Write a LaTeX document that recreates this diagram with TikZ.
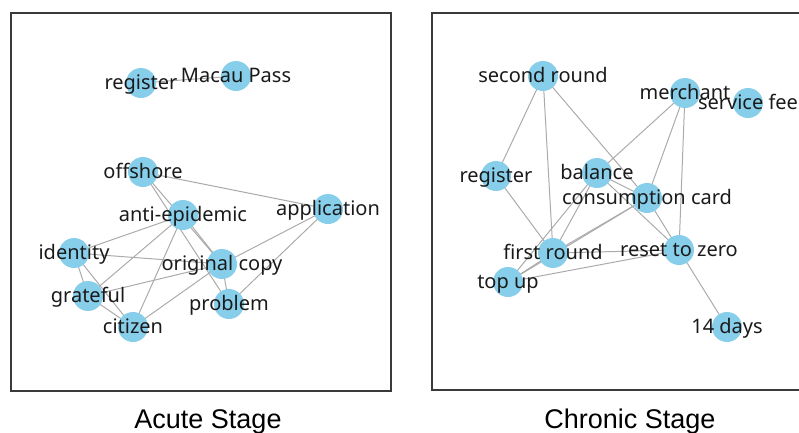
\documentclass[tikz,border=0pt]{standalone}
\usepackage{fontspec}
\setmainfont{Noto Sans}
\newfontfamily\titlefont{Liberation Sans}
\usetikzlibrary{backgrounds}
\definecolor{nodeblue}{HTML}{87CEEB}
\definecolor{edgegray}{HTML}{ABABAB}
\definecolor{framegray}{HTML}{3A3A3A}
\definecolor{labelink}{HTML}{1A1A1A}
% vertex: a filled disc plus its centred label
\newcommand\gvertex[4]{%
  \node[vtx] (#1) at (#2,#3) {};
  \node[lbl] (#1-l) at (#1.center) {#4};}
\begin{document}
\begin{tikzpicture}[x=1pt,y=-1pt,
  vtx/.style={circle, fill=nodeblue, minimum size=30pt, inner sep=0pt},
  lbl/.style={anchor=base, yshift=-6pt, inner sep=0pt, text=labelink,
              font=\fontsize{20}{24}\selectfont},
  edge/.style={draw=edgegray, line width=1pt},
  panel/.style={draw=framegray, line width=1.3pt},
  caption/.style={anchor=base, inner sep=0pt, text=black,
                  font=\titlefont\fontsize{27}{32}\selectfont}]
\useasboundingbox (0,0) rectangle (799,432);
\clip (0,0) rectangle (799,432);

% panel frames
\draw[panel] (11,13) rectangle (391,391);
\draw[panel] (432,13) rectangle (820,390);

% ---- acute stage network ----
\gvertex{aReg}{141}{83}{register}
\gvertex{aMacau}{236}{76}{Macau Pass}
\gvertex{aOff}{143}{172}{offshore}
\gvertex{aAnti}{183}{215}{anti-epidemic}
\gvertex{aApp}{328}{209}{application}
\gvertex{aId}{74}{253}{identity}
\gvertex{aOrig}{222}{264}{original copy}
\gvertex{aGrat}{88}{296}{grateful}
\gvertex{aProb}{229}{304}{problem}
\gvertex{aCit}{133}{327}{citizen}

% ---- chronic stage network ----
\gvertex{cSecond}{543}{76}{second round}
\gvertex{cMerch}{685}{93}{merchant}
\gvertex{cFee}{748}{103}{service fee}
\gvertex{cReg}{496}{176}{register}
\gvertex{cBal}{597}{173}{balance}
\gvertex{cCard}{647}{198}{consumption card}
\gvertex{cFirst}{553}{253}{first round}
\gvertex{cReset}{679}{250}{reset to zero}
\gvertex{cTop}{508}{282}{top up}
\gvertex{cDays}{727}{327}{14 days}

\begin{scope}[on background layer]
  % acute stage links
  \draw[edge] (aReg.center) -- (aMacau.center);
  \draw[edge] (aOff.center) -- (aApp.center);
  \draw[edge] (aOff.center) -- (aOrig.center);
  \draw[edge] (aOff.center) -- (aProb.center);
  \draw[edge] (aAnti.center) -- (aOrig.center);
  \draw[edge] (aAnti.center) -- (aId.center);
  \draw[edge] (aAnti.center) -- (aGrat.center);
  \draw[edge] (aAnti.center) -- (aCit.center);
  \draw[edge] (aId.center) -- (aOrig.center);
  \draw[edge] (aId.center) -- (aGrat.center);
  \draw[edge] (aId.center) -- (aCit.center);
  \draw[edge] (aGrat.center) -- (aOrig.center);
  \draw[edge] (aGrat.center) -- (aCit.center);
  \draw[edge] (aCit.center) -- (aOrig.center);
  \draw[edge] (aOrig.center) -- (aApp.center);
  \draw[edge] (aOrig.center) -- (aProb.center);
  \draw[edge] (aProb.center) -- (aApp.center);
  % chronic stage links
  \draw[edge] (cSecond.center) -- (cReg.center);
  \draw[edge] (cSecond.center) -- (cFirst.center);
  \draw[edge] (cSecond.center) -- (cCard.center);
  \draw[edge] (cMerch.center) -- (cBal.center);
  \draw[edge] (cMerch.center) -- (cCard.center);
  \draw[edge] (cMerch.center) -- (cReset.center);
  \draw[edge] (cReg.center) -- (cFirst.center);
  \draw[edge] (cBal.center) -- (cCard.center);
  \draw[edge] (cBal.center) -- (cFirst.center);
  \draw[edge] (cBal.center) -- (cTop.center);
  \draw[edge] (cBal.center) -- (cReset.center);
  \draw[edge] (cCard.center) -- (cFirst.center);
  \draw[edge] (cCard.center) -- (cTop.center);
  \draw[edge] (cCard.center) -- (cReset.center);
  \draw[edge] (cFirst.center) -- (cReset.center);
  \draw[edge] (cFirst.center) -- (cTop.center);
  \draw[edge] (cTop.center) -- (cReset.center);
  \draw[edge] (cReset.center) -- (cDays.center);
\end{scope}

% captions
\node[caption] (capA) at (208,428) {Acute Stage};
\node[caption] (capC) at (630,428) {Chronic Stage};
\end{tikzpicture}
\end{document}
